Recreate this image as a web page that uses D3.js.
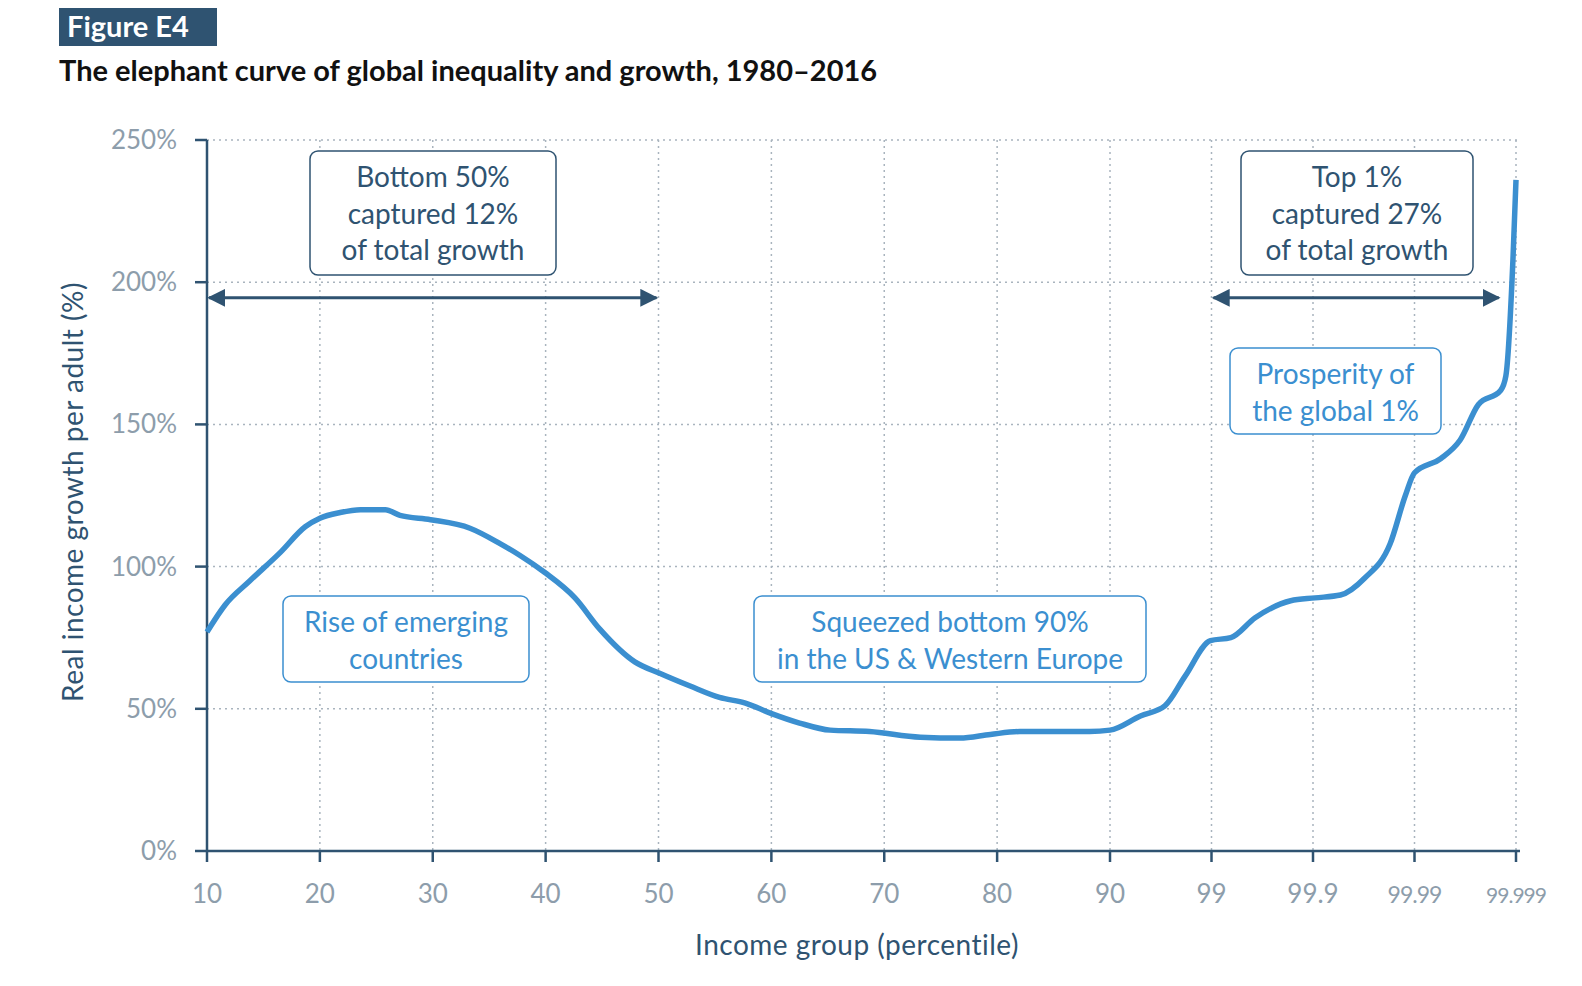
<!DOCTYPE html>
<html><head><meta charset="utf-8">
<script src="https://cdn.jsdelivr.net/npm/d3@7"></script>
<style>body{margin:0;background:#fff;font-family:Lato,"Open Sans",sans-serif}</style>
</head><body><div id="chart-area"></div>
<script>
// x positions are tick slots: 0 = 10th percentile ... 8 = 90th, 9 = 99, 10 = 99.9, 11 = 99.99, 12 = 99.999
var tickLabels = ["10","20","30","40","50","60","70","80","90","99","99.9","99.99","99.999"];
var yTicks = [0, 50, 100, 150, 200, 250];
var xPos = [0,0.16,0.38,0.65,0.87,1.0,1.18,1.36,1.58,1.71,1.98,2.33,2.6,2.77,2.99,3.26,3.48,3.79,4.01,4.28,4.54,4.77,4.99,5.25,5.52,5.87,6.32,6.67,6.94,7.2,7.47,7.82,8.0,8.3,8.54,8.74,8.99,9.19,9.43,9.78,10.02,10.27,10.51,10.76,10.91,11.0,11.26,11.45,11.63,11.85,11.9,11.97,12];
var growth = [77,86.5,95,105,114,117,119,120,120,120.5,118,116.5,115,113.5,108,104,98,89,78,66.5,62.5,58,54,52,48.5,45,42.5,42,40,39.7,41,42,42,42,42.5,47.5,51,61.5,74,75,82,88,89,90,96,108,125,133,138,144.5,157,162,167,208,236].slice(0);
// keep lengths aligned
growth = [77,86.5,95,105,114,117,119,120,120,118,116.5,113.5,108,104,98,89,78,66.5,62.5,58,54,52,48.5,45,42.5,42,40,39.7,41,42,42,42,42.5,47.5,51,61.5,74,75,82,88,89,90,96,108,125,133,138,144.5,157,162,167,208,236];

var dark = "#2f5371", blue = "#3b8fd0", grey = "#8d9dab";

var svg = d3.select("#chart-area").append("svg")
    .attr("width", 1582).attr("height", 986);

var x = d3.scaleLinear().domain([0, 8, 12]).range([207, 1110, 1516]);
var y = d3.scaleLinear().domain([0, 250]).range([851, 140]);

// header
svg.append("rect").attr("x", 59).attr("y", 8).attr("width", 158).attr("height", 38).attr("fill", dark);
svg.append("text").attr("x", 67).attr("y", 37).attr("fill", "#fff")
    .attr("font-size", 29).attr("font-weight", "bold").text("Figure E4");
svg.append("text").attr("x", 59).attr("y", 81).attr("fill", "#111")
    .attr("font-size", 29).attr("font-weight", "bold")
    .text("The elephant curve of global inequality and growth, 1980–2016");

// grid
svg.selectAll(".vg").data(d3.range(1, 13)).enter().append("line")
    .attr("x1", d => x(d)).attr("x2", d => x(d)).attr("y1", 140).attr("y2", 851)
    .attr("stroke", "#a9b4be").attr("stroke-width", 1.5).attr("stroke-dasharray", "2,4");
svg.selectAll(".hg").data(yTicks.slice(1)).enter().append("line")
    .attr("x1", 207).attr("x2", 1520).attr("y1", d => y(d)).attr("y2", d => y(d))
    .attr("stroke", "#a9b4be").attr("stroke-width", 1.5).attr("stroke-dasharray", "2,4");

// axes
svg.append("line").attr("x1", 207).attr("x2", 207).attr("y1", 140).attr("y2", 851).attr("stroke", dark).attr("stroke-width", 2.5);
svg.append("line").attr("x1", 207).attr("x2", 1520).attr("y1", 851).attr("y2", 851).attr("stroke", dark).attr("stroke-width", 2.5);
svg.selectAll(".yt").data(yTicks).enter().append("line")
    .attr("x1", 195).attr("x2", 207).attr("y1", d => y(d)).attr("y2", d => y(d)).attr("stroke", dark).attr("stroke-width", 2.5);
svg.selectAll(".yl").data(yTicks).enter().append("text")
    .attr("x", 177).attr("y", d => y(d) + 9).attr("text-anchor", "end")
    .attr("font-size", 26).attr("fill", grey).text(d => d + "%");
svg.selectAll(".xt").data(tickLabels).enter().append("line")
    .attr("x1", (d, i) => x(i)).attr("x2", (d, i) => x(i)).attr("y1", 851).attr("y2", 862).attr("stroke", dark).attr("stroke-width", 2.5);
svg.selectAll(".xl").data(tickLabels).enter().append("text")
    .attr("x", (d, i) => x(i)).attr("y", 903).attr("text-anchor", "middle")
    .attr("font-size", (d, i) => i < 11 ? 26 : (i == 11 ? 23 : 21))
    .attr("letter-spacing", (d, i) => i >= 11 ? -1 : 0)
    .attr("fill", grey).text(d => d);

svg.append("text").attr("x", 857).attr("y", 955).attr("text-anchor", "middle")
    .attr("font-size", 28).attr("fill", dark).attr("letter-spacing", 0.5).text("Income group (percentile)");
svg.append("text").attr("transform", "translate(83,492) rotate(-90)").attr("text-anchor", "middle")
    .attr("font-size", 28).attr("fill", dark).attr("letter-spacing", 0.5).text("Real income growth per adult (%)");

// curve
var pts = xPos.map((d, i) => [d, growth[i]]);
svg.append("path").datum(pts)
    .attr("d", d3.line().x(d => x(d[0])).y(d => y(d[1])).curve(d3.curveMonotoneX))
    .attr("fill", "none").attr("stroke", blue).attr("stroke-width", 5.5).attr("stroke-linejoin", "round");

// arrows
var defs = svg.append("defs");
defs.append("marker").attr("id", "ah").attr("viewBox", "0 0 10 10").attr("refX", 9).attr("refY", 5)
    .attr("markerWidth", 6).attr("markerHeight", 6).attr("orient", "auto-start-reverse")
    .append("path").attr("d", "M0,0L10,5L0,10z").attr("fill", dark);
[[0, 4], [9, 11.85]].forEach(function(a) {
    svg.append("line").attr("x1", x(a[0]) + 2).attr("x2", x(a[1]) - 2).attr("y1", y(194.5)).attr("y2", y(194.5))
        .attr("stroke", dark).attr("stroke-width", 3)
        .attr("marker-start", "url(#ah)").attr("marker-end", "url(#ah)");
});

// annotation boxes
function box(x0, y0, w, h, lines, col) {
    svg.append("rect").attr("x", x0).attr("y", y0).attr("width", w).attr("height", h)
        .attr("rx", 8).attr("fill", "#fff").attr("stroke", col).attr("stroke-width", 1.5);
    lines.forEach(function(t, i) {
        svg.append("text").attr("x", x0 + w / 2).attr("y", y0 + 36 + i * 36.5).attr("text-anchor", "middle")
            .attr("font-size", 28).attr("fill", col).text(t);
    });
}
box(310, 151, 246, 124, ["Bottom 50%", "captured 12%", "of total growth"], dark);
box(1241, 151, 232, 124, ["Top 1%", "captured 27%", "of total growth"], dark);
box(1230, 348, 211, 86, ["Prosperity of", "the global 1%"], blue);
box(283, 596, 246, 86, ["Rise of emerging", "countries"], blue);
box(754, 596, 392, 86, ["Squeezed bottom 90%", "in the US & Western Europe"], blue);
</script></body></html>
